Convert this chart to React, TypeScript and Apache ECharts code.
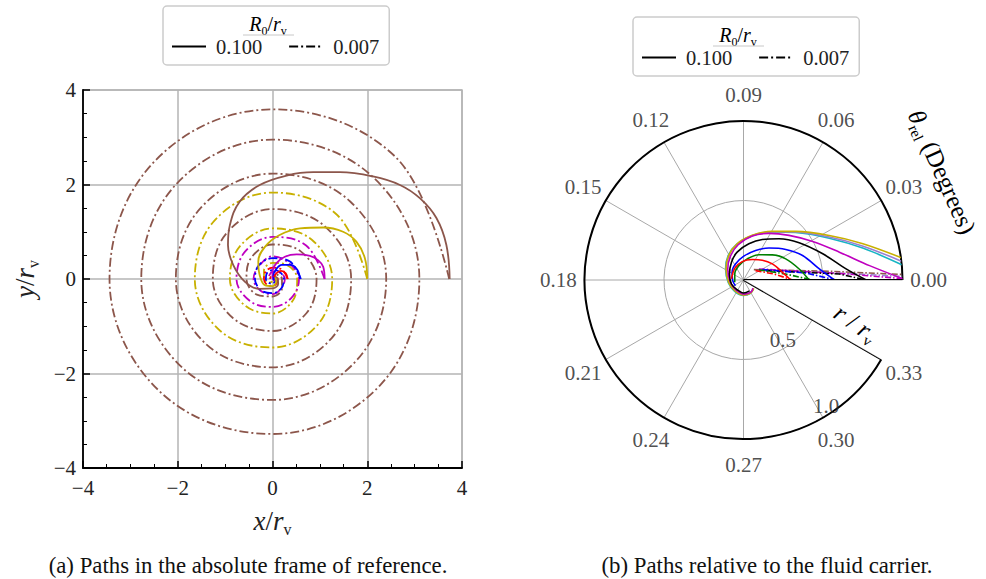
import React, { useEffect, useRef } from 'react';
import * as echarts from 'echarts';

const SERIF = "'Liberation Serif', 'DejaVu Serif', serif";

// legend entries (R0 / r_v)
const legendNames = ['0.100', '0.007'];

// ---------- Panel (a): absolute frame, [x/r_v, y/r_v] ----------
const absBrownSolid = [
  [3.74, 0], [3.67, 0.72], [3.46, 1.29], [3.11, 1.71], [2.69, 1.99], [2.12, 2.17], [1.42, 2.26],
  [0.86, 2.26], [0.3, 2.19], [-0.27, 1.99], [-0.69, 1.64], [-0.9, 1.14], [-0.94, 0.72], [-0.83, 0.3],
  [-0.58, -0.06], [-0.27, -0.21], [0.0, -0.2], [0.12, -0.1], [0.1, 0.02], [0.02, 0.05],
];
const absYellowSolid = [
  [2.0, 0], [1.95, 0.44], [1.77, 0.79], [1.49, 1.0], [1.07, 1.09], [0.58, 1.07], [0.15, 0.93],
  [-0.16, 0.68], [-0.3, 0.37], [-0.27, 0.08], [-0.16, -0.13], [0.0, -0.15], [0.08, -0.05], [0.04, 0.03],
];
const absMagentaSolid = [
  [1.1, 0], [1.07, 0.26], [0.96, 0.4], [0.79, 0.49], [0.51, 0.52], [0.26, 0.47], [0.08, 0.33],
  [0.0, 0.15], [0.0, 0.02], [0.05, -0.04],
];
const absBlueSolid = [
  [0.58, 0], [0.52, 0.2], [0.38, 0.3], [0.2, 0.3], [0.07, 0.2], [0.02, 0.07], [0.03, -0.03],
];
const absRedSolid = [
  [0.32, 0], [0.28, 0.12], [0.18, 0.17], [0.08, 0.12], [0.03, 0.04],
];
const absBrownDash = [
  [3.73, 0], [2.59, 2.59], [0, 3.59], [-2.49, 2.49], [-3.44, 0], [-2.38, -2.38], [0, -3.28], [2.26, -2.26],
  [3.1, 0], [2.14, 2.14], [0, 2.95], [-2.02, 2.02], [-2.77, 0], [-1.89, -1.89], [0, -2.56], [1.75, -1.75],
  [2.4, 0], [1.64, 1.64], [0, 2.23], [-1.51, 1.51], [-2.04, 0], [-1.39, -1.39], [0, -1.87], [1.25, -1.25],
  [1.66, 0], [1.11, 1.11], [0, 1.48], [-0.97, 0.97], [-1.26, 0], [-0.83, -0.83], [0, -1.1], [0.72, -0.72],
  [0.93, 0], [0.59, 0.59], [0, 0.73], [-0.45, 0.45], [-0.55, 0], [-0.33, -0.33], [0, -0.37], [0.2, -0.2],
  [0.2, 0], [0.09, 0.09], [0, 0.07],
];
const absYellowDash = [
  [2.0, 0], [1.36, 1.36], [0, 1.83], [-1.23, 1.23], [-1.64, 0], [-1.1, -1.1], [0, -1.45], [0.96, -0.96],
  [1.26, 0], [0.83, 0.83], [0, 1.07], [-0.69, 0.69], [-0.9, 0], [-0.57, -0.57], [0, -0.73], [0.44, -0.44],
  [0.52, 0], [0.3, 0.3], [0, 0.34], [-0.18, 0.18], [-0.18, 0], [-0.08, -0.08], [0, -0.05],
];
const absMagentaDash = [
  [1.1, 0], [0.71, 0.71], [0, 0.89], [-0.58, 0.58], [-0.76, 0], [-0.47, -0.47], [0, -0.59], [0.4, -0.4],
  [0.56, 0], [0.34, 0.34], [0, 0.48], [-0.28, 0.28], [-0.4, 0], [-0.25, -0.25], [0, -0.32], [0.19, -0.19],
  [0.26, 0], [0.14, 0.14], [0, 0.15], [-0.07, 0.07], [-0.08, 0],
];
const absBlueDash = [
  [0.6, 0], [0.37, 0.37], [0, 0.44], [-0.29, 0.29], [-0.37, 0], [-0.24, -0.24], [0, -0.3], [0.19, -0.19],
  [0.24, 0], [0.15, 0.15], [0, 0.19], [-0.12, 0.12], [-0.14, 0], [-0.08, -0.08], [0, -0.1], [0.05, -0.05], [0.06, 0],
];
const absRedDash = [
  [0.32, 0], [0.2, 0.2], [0, 0.24], [-0.15, 0.15], [-0.18, 0], [-0.12, -0.12], [0, -0.15], [0.09, -0.09],
  [0.11, 0], [0.07, 0.07], [0, 0.08], [-0.04, 0.04], [-0.05, 0],
];

// ---------- Panel (b): relative frame, [r/r_v, theta_rel] ----------
const relYellow = [
  [1.01, 0.0078], [0.785, 0.0169], [0.608, 0.0274], [0.449, 0.0429], [0.356, 0.0593], [0.286, 0.0789],
  [0.231, 0.0999], [0.18, 0.1212], [0.13, 0.1475], [0.094, 0.189], [0.087, 0.231], [0.095, 0.271],
  [0.094, 0.298], [0.084, 0.321],
];
const relPurple = [
  [1.0, 0.0068], [0.782, 0.0158], [0.604, 0.0266], [0.446, 0.0426], [0.353, 0.0594], [0.284, 0.079],
  [0.229, 0.1], [0.178, 0.1215], [0.128, 0.148], [0.092, 0.19], [0.085, 0.232], [0.093, 0.271],
  [0.092, 0.297], [0.082, 0.318],
];
const relCyan = [
  [1.0, 0.0055], [0.78, 0.0148], [0.6, 0.026], [0.443, 0.0425], [0.351, 0.0596], [0.283, 0.0792],
  [0.23, 0.1005], [0.182, 0.122], [0.133, 0.148], [0.097, 0.19], [0.09, 0.232], [0.097, 0.27],
  [0.095, 0.296], [0.085, 0.317],
];
const relMagenta = [
  [1.005, 0.0004], [0.798, 0.0065], [0.628, 0.0162], [0.498, 0.0291], [0.401, 0.0444], [0.334, 0.0613],
  [0.282, 0.0787], [0.224, 0.0986], [0.171, 0.1187], [0.121, 0.145], [0.084, 0.19], [0.078, 0.234],
  [0.089, 0.274], [0.089, 0.303], [0.078, 0.319],
];
const relBlack = [
  [0.772, 0], [0.649, 0.0062], [0.525, 0.0183], [0.421, 0.0338], [0.342, 0.0493], [0.281, 0.0651],
  [0.23, 0.0816], [0.18, 0.1028], [0.135, 0.1241], [0.096, 0.1568], [0.08, 0.1984], [0.073, 0.237],
  [0.082, 0.271], [0.078, 0.299],
];
const relBlue = [
  [0.572, 0], [0.482, 0.0083], [0.402, 0.0225], [0.328, 0.0358], [0.257, 0.0514], [0.201, 0.0677],
  [0.15, 0.0893], [0.113, 0.1166], [0.087, 0.1457], [0.068, 0.1837], [0.062, 0.215],
];
const relGreen = [
  [0.413, 0], [0.357, 0.0112], [0.297, 0.0266], [0.241, 0.041], [0.186, 0.0585], [0.135, 0.08],
  [0.095, 0.108], [0.067, 0.145], [0.057, 0.195],
];
const relRed = [
  [0.297, 0], [0.25, 0.0112], [0.208, 0.0291], [0.172, 0.0465], [0.14, 0.0668], [0.116, 0.094],
  [0.092, 0.1266], [0.076, 0.175],
];
const relRedDash = [[0.096, 0.0378], [0.196, 0.0112], [0.308, 0]];
const relGreenDash = [[0.116, 0.0332], [0.268, 0.0081], [0.435, 0]];
const relBlueDash = [[0.135, 0.0289], [0.395, 0.0064], [0.582, 0]];
const relBlackDash = [[0.151, 0.023], [0.604, 0.0036], [0.772, 0]];
const relMagentaDash = [[0.119, 0.0357], [0.647, 0.0034], [1.0, 0.0005]];
const relBrownDash = [[0.092, 0.045], [0.543, 0.0058], [1.0, 0.002]];
const relPurpleDash = [[0.1, 0.04], [0.55, 0.0048], [1.0, 0.0013]];

// angle tick values (theta_rel, Degrees)
const angleTicks = [0, 0.03, 0.06, 0.09, 0.12, 0.15, 0.18, 0.21, 0.24, 0.27, 0.3, 0.33];
// sector outline: [r, theta]
const sectorEdges = [[1.0, 0], [0, 0], [1.0, 0.33]];
// radial tick labels [r, theta position]
const radiusTickLabels = [[0.5, 0.303], [1.0, 0.303]];

const C = {
  brown: '#8c564b',
  yellow: '#c8b000',
  magenta: '#bf00bf',
  blue: '#0000ff',
  red: '#ff0000',
  green: '#008000',
  black: '#000000',
  cyan: '#17b5c4',
  purple: '#9a7fd0',
};
const DD = [9, 3, 2, 3];
const DD2 = [6, 2, 1.5, 2];
const LABEL_R = 1.165; // radius (in r/r_v units) where angle labels are centred

function absLine(data: number[][], color: string, dashed: boolean) {
  return {
    type: 'line', xAxisIndex: 0, yAxisIndex: 0, data, smooth: dashed ? 0.375 : 0.4,
    symbol: 'none', silent: true,
    lineStyle: { color, width: 1.8, type: dashed ? DD : 'solid' },
  };
}
function relLine(data: number[][], color: string, dashed: boolean) {
  return {
    type: 'line', coordinateSystem: 'polar', polarIndex: 0, data, smooth: dashed ? false : 0.35,
    symbol: 'none', silent: true, clip: false,
    lineStyle: { color, width: 1.6, type: dashed ? DD2 : 'solid' },
  };
}

const mathRich = (size: number, sub: number) => ({
  i: { fontFamily: SERIF, fontStyle: 'italic', fontSize: size, lineHeight: size + 6, color: '#222' },
  n: { fontFamily: SERIF, fontSize: size, lineHeight: size + 6, color: '#222' },
  s: { fontFamily: SERIF, fontSize: sub, lineHeight: sub, verticalAlign: 'bottom', color: '#222' },
});

const centred = { align: 'center', verticalAlign: 'middle', textAlign: 'center', textVerticalAlign: 'middle' };

export default function App() {
  const ref = useRef<HTMLDivElement>(null);
  useEffect(() => {
    if (!ref.current) return;
    const chart = echarts.init(ref.current, undefined, { renderer: 'svg' });
    const minus = (v: number) => String(v).replace('-', '\u2212');
    const legendCommon = {
      data: legendNames,
      orient: 'horizontal',
      backgroundColor: '#fff',
      borderColor: '#cccccc',
      borderWidth: 1.5,
      borderRadius: 4,
      padding: [30, 10, 8, 8],
      itemGap: 26,
      itemWidth: 34,
      itemHeight: 14,
      selectedMode: false,
      itemStyle: { opacity: 0, color: 'rgba(0,0,0,0)', borderWidth: 0 },
      textStyle: { fontFamily: SERIF, fontSize: 20.5, color: '#222', padding: [0, 0, 0, 5] },
    };
    const option: any = {
      animation: false,
      backgroundColor: '#ffffff',
      textStyle: { fontFamily: SERIF },
      legend: [
        { ...legendCommon, left: 163, top: 6 },
        { ...legendCommon, left: 633, top: 17 },
      ],
      grid: {
        left: 83, top: 90, width: 379, height: 378, show: true,
        borderColor: '#b5b5b5', borderWidth: 1.5,
      },
      xAxis: {
        type: 'value', min: -4, max: 4, interval: 2,
        name: '{i|x}{n|/}{i|r}{s|v}', nameLocation: 'middle', nameGap: 36,
        nameTextStyle: { rich: mathRich(27, 16) },
        axisLine: { onZero: false, lineStyle: { color: '#000', width: 1.8 } },
        axisTick: { inside: true, length: 7, lineStyle: { color: '#000', width: 1.5 } },
        minorTick: { show: true, splitNumber: 4, length: 4, lineStyle: { color: '#000', width: 1 } },
        axisLabel: { fontFamily: SERIF, fontSize: 21, color: '#222', margin: 9, formatter: minus },
        splitLine: { show: true, lineStyle: { color: '#b5b5b5', width: 1.5 } },
      },
      yAxis: {
        type: 'value', min: -4, max: 4, interval: 2,
        name: '{i|y}{n|/}{i|r}{s|v}', nameLocation: 'middle', nameGap: 42, nameRotate: 90,
        nameTextStyle: { rich: mathRich(27, 16) },
        axisLine: { onZero: false, lineStyle: { color: '#000', width: 1.8 } },
        axisTick: { inside: true, length: 7, lineStyle: { color: '#000', width: 1.5 } },
        minorTick: { show: true, splitNumber: 4, length: 4, lineStyle: { color: '#000', width: 1 } },
        axisLabel: { fontFamily: SERIF, fontSize: 21, color: '#222', margin: 7, formatter: minus },
        splitLine: { show: true, lineStyle: { color: '#b5b5b5', width: 1.5 } },
      },
      polar: { center: [743.5, 280], radius: 159 },
      angleAxis: {
        type: 'value', min: 0, max: 0.33, interval: 0.03,
        startAngle: 0, endAngle: 330, clockwise: false,
        axisLine: { show: true, lineStyle: { color: '#000', width: 2 } },
        axisTick: { show: false },
        axisLabel: { show: false },
        splitLine: { show: true, lineStyle: { color: '#a8a8a8', width: 1 } },
      },
      radiusAxis: {
        type: 'value', min: 0, max: 1, interval: 0.5,
        axisLine: { show: false }, axisTick: { show: false }, axisLabel: { show: false },
        splitLine: { show: true, lineStyle: { color: '#a8a8a8', width: 1 } },
      },
      series: [
        // legend proxies
        { name: '0.100', type: 'line', data: [], symbol: 'none', lineStyle: { color: '#000', width: 2 }, itemStyle: { color: '#000' } },
        { name: '0.007', type: 'line', data: [], symbol: 'none', lineStyle: { color: '#000', width: 2, type: DD }, itemStyle: { color: '#000' } },
        // panel (a)
        absLine(absBrownDash, C.brown, true),
        absLine(absYellowDash, C.yellow, true),
        absLine(absMagentaDash, C.magenta, true),
        absLine(absBlueDash, C.blue, true),
        absLine(absRedDash, C.red, true),
        absLine(absBrownSolid, C.brown, false),
        absLine(absYellowSolid, C.yellow, false),
        absLine(absMagentaSolid, C.magenta, false),
        absLine(absBlueSolid, C.blue, false),
        absLine(absRedSolid, C.red, false),
        // panel (b)
        relLine(relPurpleDash, C.purple, true),
        relLine(relBrownDash, C.brown, true),
        relLine(relMagentaDash, C.magenta, true),
        relLine(relBlackDash, C.black, true),
        relLine(relBlueDash, C.blue, true),
        relLine(relGreenDash, C.green, true),
        relLine(relRedDash, C.red, true),
        relLine(relCyan, C.cyan, false),
        relLine(relPurple, C.purple, false),
        relLine(relYellow, C.yellow, false),
        relLine(relMagenta, C.magenta, false),
        relLine(relBlack, C.black, false),
        relLine(relBlue, C.blue, false),
        relLine(relGreen, C.green, false),
        relLine(relRed, C.red, false),
        {
          type: 'line', coordinateSystem: 'polar', data: sectorEdges, symbol: 'none', silent: true,
          lineStyle: { color: '#000', width: 2 },
        },
        {
          type: 'scatter', coordinateSystem: 'polar', data: radiusTickLabels, symbolSize: 0, silent: true,
          clip: false,
          label: {
            show: true, position: 'inside', offset: [-4, -7],
            fontFamily: SERIF, fontSize: 21, color: '#222',
            formatter: (p: any) => p.value[0].toFixed(1),
          },
        },
        {
          type: 'scatter', coordinateSystem: 'polar', symbolSize: 0, silent: true, clip: false,
          data: angleTicks.map((t) => [LABEL_R, t]),
          label: {
            show: true, position: 'inside',
            fontFamily: SERIF, fontSize: 21, color: '#222',
            formatter: (p: any) => p.value[1].toFixed(2),
          },
        },
      ],
      graphic: [
        {
          type: 'text', x: 268, y: 24, z: 100,
          style: { text: '{i|R}{s|0}{n|/}{i|r}{s|v}', rich: mathRich(20, 12), ...centred },
        },
        { type: 'line', z: 100, shape: { x1: 243, y1: 35, x2: 294, y2: 35 }, style: { stroke: '#c8c8c8', lineWidth: 1 } },
        {
          type: 'text', x: 738, y: 35, z: 100,
          style: { text: '{i|R}{s|0}{n|/}{i|r}{s|v}', rich: mathRich(20, 12), ...centred },
        },
        { type: 'line', z: 100, shape: { x1: 713, y1: 46, x2: 764, y2: 46 }, style: { stroke: '#c8c8c8', lineWidth: 1 } },
        {
          type: 'text', x: 942, y: 172, rotation: -66 * Math.PI / 180, z: 100,
          style: { text: '{i|θ}{s|rel}{n| (Degrees)}', rich: mathRich(25, 15), ...centred },
        },
        {
          type: 'text', x: 856, y: 323, rotation: -35 * Math.PI / 180, z: 100,
          style: { text: '{i|r}{n| / }{i|r}{s|v}', rich: mathRich(25, 15), ...centred },
        },
        {
          type: 'text', x: 248, y: 565, z: 100,
          style: { text: '(a) Paths in the absolute frame of reference.', fontFamily: SERIF, fontSize: 22.8, fill: '#111', ...centred },
        },
        {
          type: 'text', x: 767, y: 565, z: 100,
          style: { text: '(b) Paths relative to the fluid carrier.', fontFamily: SERIF, fontSize: 22.8, fill: '#111', ...centred },
        },
      ],
    };
    chart.setOption(option);
    return () => chart.dispose();
  }, []);
  return (
    <div
      ref={ref}
      style={{ position: 'fixed', left: 0, top: 0, width: 986, height: 579, background: '#fff' }}
    />
  );
}
